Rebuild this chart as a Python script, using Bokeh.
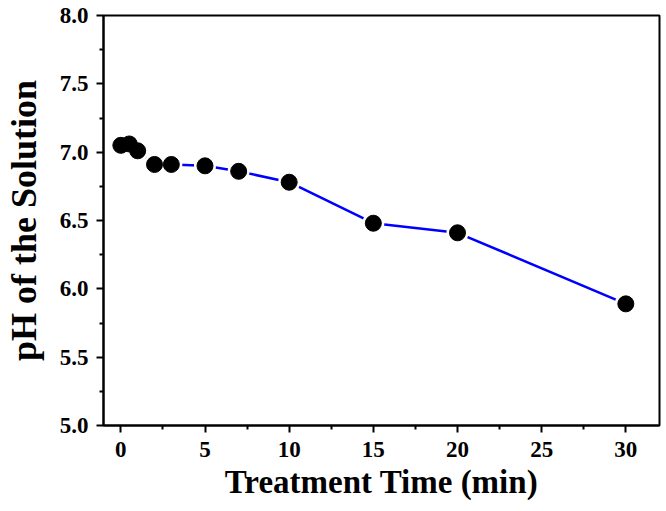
from bokeh.plotting import figure
from bokeh.models import FixedTicker, PrintfTickFormatter, Range1d, ColumnDataSource
from bokeh.embed import file_html
from bokeh.resources import INLINE

# data
time_min = [0, 0.5, 1, 2, 3, 5, 7, 10, 15, 20, 30]
ph_values = [7.05, 7.06, 7.01, 6.91, 6.91, 6.90, 6.86, 6.78, 6.48, 6.41, 5.89]

x_ticks = [0, 5, 10, 15, 20, 25, 30]
x_minor = [2.5, 7.5, 12.5, 17.5, 22.5, 27.5]
y_ticks = [5.0, 5.5, 6.0, 6.5, 7.0, 7.5, 8.0]
y_minor = [5.25, 5.75, 6.25, 6.75, 7.25, 7.75]

x_title = "Treatment Time (min)"
y_title = "pH of the Solution"

src = ColumnDataSource(dict(x=time_min, y=ph_values))

FONT = "Liberation Serif"

p = figure(width=662, height=505, output_backend="svg", toolbar_location=None,
           x_range=Range1d(-1.03, 32.0), y_range=Range1d(5.0, 8.0),
           min_border_left=103, min_border_right=3, min_border_top=15, min_border_bottom=80)

p.line("x", "y", source=src, line_color="#0000ff", line_width=2.5)
p.scatter("x", "y", source=src, size=22, fill_color="white", line_color=None)
p.scatter("x", "y", source=src, size=16, fill_color="black", line_color="black")

p.xgrid.visible = False
p.ygrid.visible = False
p.outline_line_color = "black"
p.outline_line_width = 2
p.outline_line_alpha = 1

for ax, ticks, minor in ((p.xaxis[0], x_ticks, x_minor), (p.yaxis[0], y_ticks, y_minor)):
    ax.ticker = FixedTicker(ticks=ticks, minor_ticks=minor)
    ax.axis_line_width = 2
    ax.axis_line_color = "black"
    ax.major_tick_line_width = 2
    ax.minor_tick_line_width = 2
    ax.major_tick_out = 7
    ax.major_tick_in = 0
    ax.minor_tick_out = 4
    ax.minor_tick_in = 0
    ax.major_label_text_font = FONT
    ax.major_label_text_font_style = "bold"
    ax.major_label_text_font_size = "23px"
    ax.major_label_text_color = "black"
    ax.axis_label_text_font = FONT
    ax.axis_label_text_font_style = "bold"
    ax.axis_label_text_color = "black"

p.xaxis[0].axis_label_text_font_size = "33px"
p.yaxis[0].axis_label_text_font_size = "36px"
p.yaxis[0].formatter = PrintfTickFormatter(format="%.1f")
p.xaxis[0].axis_label = x_title
p.yaxis[0].axis_label = y_title
p.xaxis[0].major_label_standoff = 9
p.yaxis[0].major_label_standoff = 8
p.xaxis[0].axis_label_standoff = 4
p.yaxis[0].axis_label_standoff = 13

open("out.html", "w").write(file_html(p, INLINE))
